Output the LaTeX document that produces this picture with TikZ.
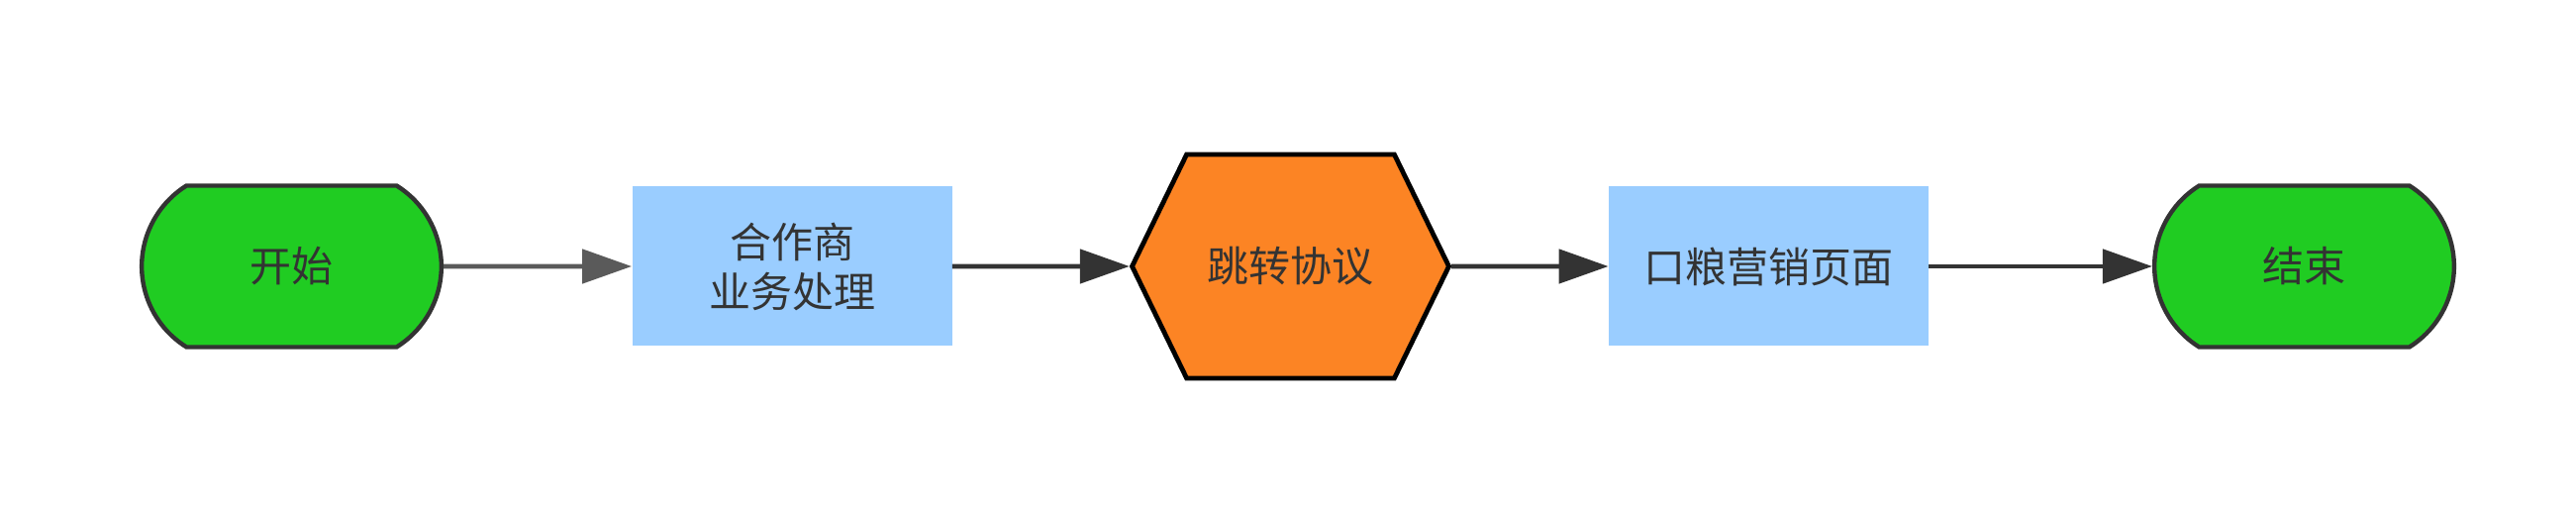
\documentclass[tikz,border=0pt]{standalone}
\usepackage{fontspec}
\setmainfont{Noto Sans CJK SC}
\usetikzlibrary{arrows.meta, shapes.misc, shapes.symbols}
\definecolor{termgreen}{RGB}{32,204,34}
\definecolor{boxblue}{RGB}{154,205,255}
\definecolor{hexorange}{RGB}{252,132,36}
\definecolor{textgrey}{RGB}{51,51,51}
\definecolor{linegrey}{RGB}{90,90,90}
\definecolor{linedark}{RGB}{51,51,51}
\tikzset{
  terminal/.style={rounded rectangle, rounded rectangle arc length=116, draw=linedark, line width=2.2pt, fill=termgreen, text=textgrey, minimum width=158pt, minimum height=81.5pt},
  process/.style={rectangle, fill=boxblue, text=textgrey, align=center, minimum width=161.5pt, minimum height=80.5pt},
  jump/.style={signal, signal to=east and west, signal pointer angle=128, draw=black, line width=2.4pt, fill=hexorange, text=textgrey, minimum width=160pt, minimum height=113pt},
  flow/.style={-{Triangle[length=25pt,width=17pt]}, line width=2.4pt, draw=linedark}
}
\begin{document}
\begin{tikzpicture}[x=0.5pt, y=0.5pt, font=\fontsize{21pt}{25pt}\selectfont]
\useasboundingbox (0,0) rectangle (2602,512);
\node[terminal] (start) at (294.5,243) {开始};
\node[process] (partner) at (800,243) {合作商\\业务处理};
\node[jump] (protocol) at (1303.5,243) {跳转协议};
\node[process] (market) at (1786.5,243) {口粮营销页面};
\node[terminal] (end) at (2327.5,243) {结束};
\draw[flow, draw=linegrey] (start) -- (partner);
\draw[flow] (partner) -- (protocol);
\draw[flow] (protocol) -- (market);
\draw[flow] (market) -- (end);
\end{tikzpicture}
\end{document}
